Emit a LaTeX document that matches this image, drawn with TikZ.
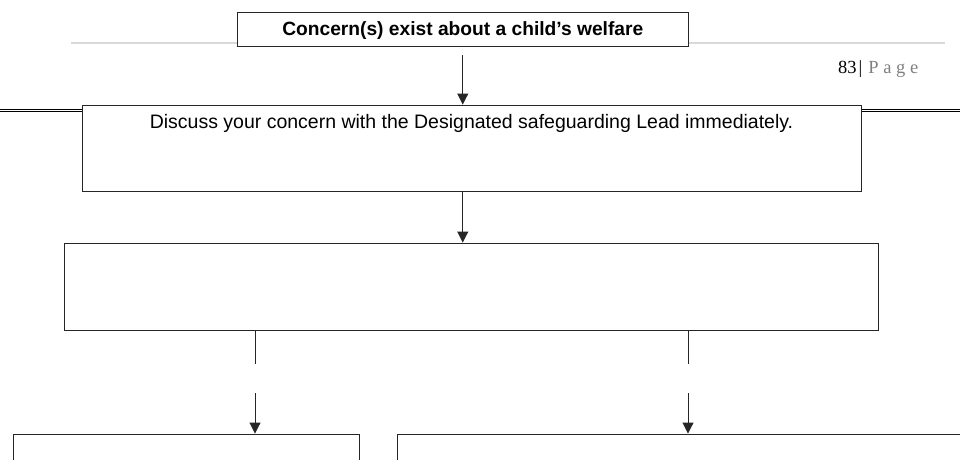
\documentclass[tikz,border=0pt]{standalone}
\usepackage{xcolor}
\usepackage{fontspec}
\setmainfont{Liberation Sans}
\newfontfamily\pagefont{Liberation Serif}
\usepackage{tikz}
\usetikzlibrary{positioning, calc, arrows.meta}

\begin{document}
\begin{tikzpicture}[x=1pt, y=-1pt,
	frame/.style={draw=black!85, line width=0.9pt, fill=white, inner sep=0pt},
	arr/.style={draw=black!85, line width=0.9pt, -{Triangle[width=11pt,length=11pt]}},
	link/.style={draw=black!85, line width=0.9pt}]
	\clip (0,0) rectangle (960,459);
	
	% page header
	\draw [gray!30, line width=1.4pt] (71,43) -- (945,43);
	\node [anchor=base west, inner sep=0pt, font=\pagefont\fontsize{18.5}{21}\selectfont] (pagenum) at (838,73.3) {83\hspace{2pt}|\hspace{6pt}\textcolor{gray}{P a g e}};
	\draw [line width=1.1pt] (0,109.3) -- (960,109.3);
	\draw [line width=1.1pt] (0,111.7) -- (960,111.7);
	
	\node [frame, minimum width=450.5pt, minimum height=34pt, text height=13.7pt, text depth=0pt, font=\bfseries\fontsize{19.2}{23}\selectfont] (concern) at (462.75,29) {Concern(s) exist about a child’s welfare};
	
	\node [frame, minimum width=779pt, minimum height=86.5pt,
		label={[anchor=base, yshift=-24.3pt, font=\fontsize{19.5}{23}\selectfont]north:Discuss your concern with the Designated safeguarding Lead immediately.}] (discuss) at (471.5,148.25) {};
	
	\node [frame, minimum width=814pt, minimum height=87pt] (decide) at (471,286.5) {};
	
	\node [frame, minimum width=346pt, minimum height=60pt] (leftbox) at (186,464) {};
	\node [frame, minimum width=603pt, minimum height=60pt] (rightbox) at (698.5,464) {};
	
	\coordinate (concernend) at ($(concern.south)+(0,9)$);
	\draw [arr] (concernend) -- (concernend |- discuss.north);
	\draw [arr] (concern.south |- discuss.south) -- (concern.south |- decide.north);
	
	\foreach \x/\target in {255/leftbox, 688/rightbox}
	{
		\coordinate (stop\target) at (\x,364);
		\coordinate (go\target) at (\x,393);
		\draw [link] (stop\target |- decide.south) -- (stop\target);
		\draw [arr] (go\target) -- (go\target |- \target.north);
	}
\end{tikzpicture}
\end{document}
